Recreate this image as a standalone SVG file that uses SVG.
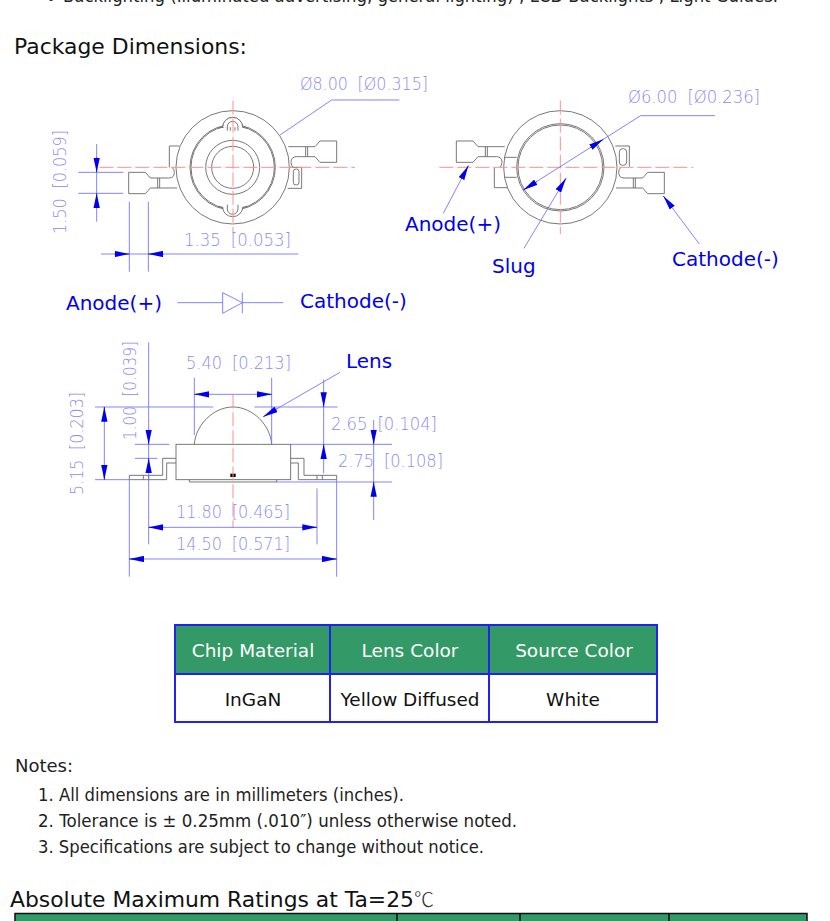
<svg xmlns="http://www.w3.org/2000/svg" xmlns:xlink="http://www.w3.org/1999/xlink" width="830" height="921" viewBox="0 0 830 921">
<style>
text{font-family:"DejaVu Sans","Liberation Sans",sans-serif}
.h{font-size:21.5px;fill:#111}
.n{font-size:17px;fill:#222}
.b{font-size:20px;fill:#0000f0}
.d{font-size:17px;fill:#8c8cf2;font-weight:200;word-spacing:5px}
.th{font-size:18.5px;fill:#fff;text-anchor:middle}
.td{font-size:18.5px;fill:#111;text-anchor:middle}
.o{fill:none;stroke:#6e6e6e;stroke-width:2.8}
.w{fill:#fff;stroke:#6e6e6e;stroke-width:2.8}
.c{fill:none;stroke:#ff8f8f;stroke-width:3;stroke-dasharray:42 12}
.l{fill:none;stroke:#7070ff;stroke-width:2.6}
.a{fill:none;stroke:#0000f0;stroke-width:2;marker-end:url(#arw)}
.g{stroke:#2222ee;stroke-width:2;fill:none}
</style>
<defs>
<marker id="arw" markerUnits="userSpaceOnUse" viewBox="-44 -10 44 20" markerWidth="44" markerHeight="20" refX="0" refY="0" orient="auto"><path d="M0,0L-44,-9.500L-44,9.500z" fill="#0000f0"/></marker>
<g id="lead" class="o">
<path d="M167,-62H247L262,-79H312V-15H262L247,-32H192Q175,-32 175,-15Q175,-5 182,0"/>
<path d="M219,-62V-32M225,-62V-32"/>
</g>
</defs>

<g id="intro"><text class="n" x="46" y="5">•</text><text class="n" x="63" y="2" textLength="715" lengthAdjust="spacingAndGlyphs">Backlighting (Illuminated advertising, general lighting) ; LCD Backlights ; Light Guides.</text></g>
<text class="h" x="14" y="54" textLength="233" lengthAdjust="spacingAndGlyphs">Package Dimensions:</text>

<g id="front-view" transform="translate(40,70) scale(.33333)">
<g transform="translate(578,292)">
<use xlink:href="#lead" href="#lead"/>
<use xlink:href="#lead" href="#lead" transform="rotate(180)"/>
<path class="o" d="M172,0H207V63H165"/>
<rect class="o" x="182" y="5" width="17" height="48" rx="8"/>
<path class="o" d="M-190,0V-64H-160"/>
<circle class="w" r="170"/>
<circle class="o" r="128"/>
<circle class="o" r="125"/>
<circle class="o" r="81"/>
<circle class="o" r="63"/>
<path class="w" stroke="none" d="M-30,-118A30,32 0 0 1 30,-118L30,-122L-30,-122z"/>
<path class="w" d="M-30,-120A30,30 0 0 1 30,-120L44,-118"/>
<path class="o" d="M-30,-120L-44,-118M-16,-110V-122A16,16 0 0 1 16,-122V-110M-7,-110V-120M7,-110V-120"/>
<path class="w" d="M-30,120A30,28 0 0 0 30,120L44,118"/>
<path class="o" d="M-30,120L-44,118M-16,112V125A16,16 0 0 0 16,125V112"/>
</g>
<path class="c" d="M178,292H945M579,92V490"/>
</g>

<g id="back-view" transform="translate(400,70) scale(.33333)">
<g transform="translate(481,292)">
<use xlink:href="#lead" href="#lead" transform="scale(-1,1)"/>
<use xlink:href="#lead" href="#lead" transform="scale(1,-1)"/>
<path class="o" d="M165,-64H207V-2"/>
<rect class="o" x="177" y="-56" width="22" height="50" rx="10"/>
<path class="o" d="M-198,0V61H-160"/>
<circle class="w" r="170"/>
<circle class="o" r="131"/>
<circle class="o" r="127"/>
<path class="o" d="M-168,-30H-131M-131,30H-168"/>
</g>
<path class="c" d="M118,292H880M481,92V492"/>
</g>

<g id="side-view" transform="translate(50,335) scale(.33333)">
<path class="o" d="M433,328C437,270 490,216 549,216C608,216 661,270 665,328"/>
<rect class="w" x="378" y="328" width="344" height="106"/>
<path class="o" d="M378,370H338V421H238V434H350V384H378M722,370H762V421H860V434H745V384H722M280,421V434M296,421V434M801,421V434M817,421V434M418,434V441H680V434"/>
<rect x="541" y="416" width="16" height="10" fill="#000"/>
<path class="c" d="M549,178V578"/>
</g>

<g id="connectors">
<g transform="translate(40,70) scale(.33333)">
<path class="l" d="M1078,90H875L720,195M170,222V455M115,307H250M115,370H250M268,395V605M325,395V605M183,552H775M412,698H548M607,698H730"/>
<path class="l" d="M548,668V730L607,698zM607,668V730"/>
<path class="a" d="M170,262V307"/><path class="a" d="M170,412V370"/>
<path class="a" d="M224,552H268"/><path class="a" d="M370,552H325"/>
</g>
<g transform="translate(400,70) scale(.33333)">
<path class="l" d="M945,137H722L370,360M372,535L498,325M130,430L205,287M898,522L790,378"/>
<path class="a" d="M570,233L610,208"/><path class="a" d="M410,335L370,360"/>
<path class="a" d="M476,361L498,325"/><path class="a" d="M185,325L205,287"/><path class="a" d="M816,412L790,378"/>
</g>
<g transform="translate(50,335) scale(.33333)">
<path class="l" d="M433,128V300M665,128V328M433,178H665M135,216H490M613,216H863M163,216V434M135,434H238M296,22V460M255,328H358M255,370H322M821,133V415M722,328H1026M971,255V555M680,441H1026M296,460V628M801,460V628M296,577H801M238,434V725M860,434V725M238,672H860M870,112L640,245"/>
<path class="a" d="M477,178H433"/><path class="a" d="M621,178H665"/>
<path class="a" d="M163,260V216"/><path class="a" d="M163,390V434"/>
<path class="a" d="M296,285V328"/><path class="a" d="M296,413V370"/>
<path class="a" d="M821,172V216"/><path class="a" d="M821,372V328"/>
<path class="a" d="M971,285V328"/><path class="a" d="M971,485V441"/>
<path class="a" d="M340,577H296"/><path class="a" d="M757,577H801"/>
<path class="a" d="M282,672H238"/><path class="a" d="M816,672H860"/>
<path class="a" d="M680,222L640,245"/>
</g>
</g>

<g id="dimension-labels">
<text class="d" x="300" y="90" textLength="128" lengthAdjust="spacingAndGlyphs">Ø8.00 [Ø0.315]</text>
<text class="d" x="628" y="103" textLength="132" lengthAdjust="spacingAndGlyphs">Ø6.00 [Ø0.236]</text>
<text class="d" transform="translate(66,234) rotate(-90)" textLength="104" lengthAdjust="spacingAndGlyphs">1.50 [0.059]</text>
<text class="d" x="184" y="246" textLength="107" lengthAdjust="spacingAndGlyphs">1.35 [0.053]</text>
<text class="d" x="186" y="369" textLength="105" lengthAdjust="spacingAndGlyphs">5.40 [0.213]</text>
<text class="d" transform="translate(136,440) rotate(-90)" textLength="99" lengthAdjust="spacingAndGlyphs">1.00 [0.039]</text>
<text class="d" transform="translate(83,495) rotate(-90)" textLength="103" lengthAdjust="spacingAndGlyphs">5.15 [0.203]</text>
<text class="d" x="331" y="430" textLength="106" lengthAdjust="spacingAndGlyphs">2.65 [0.104]</text>
<text class="d" x="338" y="467" textLength="105" lengthAdjust="spacingAndGlyphs">2.75 [0.108]</text>
<text class="d" x="176" y="518" textLength="114" lengthAdjust="spacingAndGlyphs">11.80 [0.465]</text>
<text class="d" x="176" y="550" textLength="114" lengthAdjust="spacingAndGlyphs">14.50 [0.571]</text>
</g>

<g id="callouts">
<text class="b" x="405" y="231">Anode(+)</text>
<text class="b" x="492" y="273">Slug</text>
<text class="b" x="672" y="266">Cathode(-)</text>
<text class="b" x="66" y="310">Anode(+)</text>
<text class="b" x="300" y="308">Cathode(-)</text>
<text class="b" x="346" y="368">Lens</text>
</g>

<g id="spec-table">
<rect x="175" y="625" width="482" height="49" fill="#339966"/>
<path class="g" d="M175,625H657V722H175zM175,674H657M330,625V722M489,625V722"/>
<text class="th" x="253" y="657">Chip Material</text>
<text class="th" x="410" y="657">Lens Color</text>
<text class="th" x="574" y="657">Source Color</text>
<text class="td" x="253" y="706">InGaN</text>
<text class="td" x="410" y="706" textLength="139" lengthAdjust="spacingAndGlyphs">Yellow Diffused</text>
<text class="td" x="573" y="706">White</text>
</g>

<g id="notes">
<text x="15" y="772" font-size="18" fill="#222">Notes:</text>
<text class="n" x="38" y="801" textLength="366" lengthAdjust="spacingAndGlyphs">1. All dimensions are in millimeters (inches).</text>
<text class="n" x="38" y="827" textLength="479" lengthAdjust="spacingAndGlyphs">2. Tolerance is ± 0.25mm (.010″) unless otherwise noted.</text>
<text class="n" x="38" y="853" textLength="446" lengthAdjust="spacingAndGlyphs">3. Specifications are subject to change without notice.</text>
</g>

<g id="ratings">
<text class="h" x="10" y="907" textLength="404" lengthAdjust="spacingAndGlyphs">Absolute Maximum Ratings at Ta=25</text>
<text x="414" y="907" font-size="20" fill="#333" style="font-family:'Noto Sans CJK SC',sans-serif;font-weight:300">℃</text>
<rect x="15" y="914" width="792" height="8" fill="#339966"/>
<path d="M15,921V913.500H807V921M397,913.500V921M520,913.500V921M669,913.500V921" fill="none" stroke="#111" stroke-width="1.500"/>
</g>
</svg>
